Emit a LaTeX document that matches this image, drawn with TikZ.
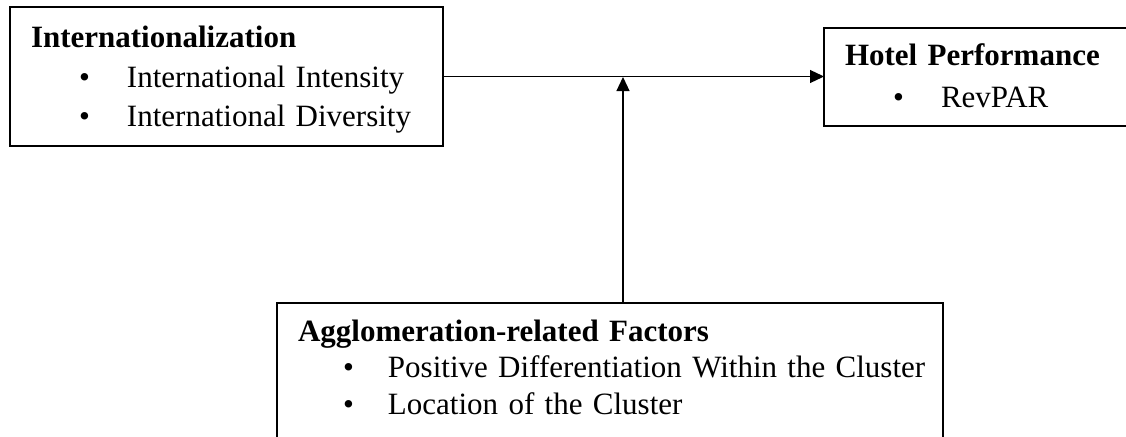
\documentclass[tikz,border=0pt]{standalone}
\usepackage{fontspec}
\setmainfont{Liberation Serif}
\usetikzlibrary{arrows.meta}
\tikzset{
	factor/.style={draw,line width=2.25pt,anchor=north west,outer sep=0pt,inner xsep=21pt,inner ysep=0pt,align=left},
	link/.style={line width=1.2pt,-{Triangle[length=14pt,width=13pt]}}
}
\newcommand{\bitem}[2][48pt]{\\\hspace*{#1}\makebox[#1][l]{\textbullet}\mbox{#2}}

\begin{document}
\begin{tikzpicture}[x=1pt,y=-1pt]
		\useasboundingbox (0,0) rectangle (1126,436);
		\node[factor,text width=391pt,text height=41pt,text depth=98pt,font=\fontsize{31}{39.5}\selectfont] (intl) at (10,7) {\textbf{Internationalization}\bitem{International Intensity}\bitem{International Diversity}};
		\node[factor,text width=269pt,text height=37pt,text depth=61pt,font=\fontsize{31}{42}\selectfont] (perf) at (824,28) {\textbf{Hotel Performance}\bitem{RevPAR}};
		\node[factor,text width=624pt,text height=38pt,text depth=129pt,font=\fontsize{31}{36.5}\selectfont] (aggl) at (277,303) {\textbf{Agglomeration-related Factors}\bitem[45pt]{Positive Differentiation Within the Cluster}\bitem[45pt]{Location of the Cluster}};
		
		\coordinate (meet) at (623,77);
		\draw[link] (intl.east) -- (intl.east -| perf.west);
		\draw[link] (meet |- aggl.north) -- (meet);
	\end{tikzpicture}
\end{document}
